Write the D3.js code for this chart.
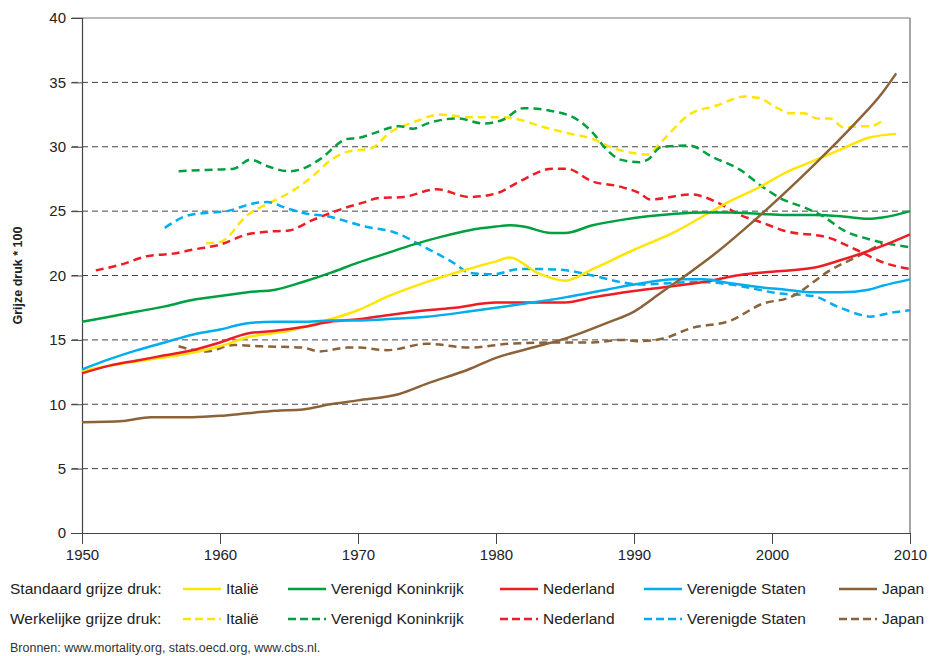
<!doctype html>
<html>
  <head>
    <meta charset="utf-8">
    <script src="https://cdnjs.cloudflare.com/ajax/libs/d3/7.8.5/d3.min.js"></script>
    <style>
      body { margin: 0; background: #fff; }
      text { font-family: "Liberation Sans Narrow", "Arial Narrow", "Liberation Sans", sans-serif; fill: #222; }
      .ylab text { font-family: "Liberation Sans", Arial, sans-serif; }
    </style>
  </head>
  <body>
    <svg width="941" height="656"></svg>
    <script>

      // Standaard grijze druk (solid lines)
      var stdItalyYears = [1950,1952,1955,1957,1960,1962,1965,1968,1970,1972,1975,1978,1980,1981,1983,1985,1987,1990,1993,1995,1997,1999,2001,2003,2005,2007,2009];
      var stdItalyVals  = [12.6,13.0,13.5,13.8,14.5,15.2,15.7,16.6,17.3,18.3,19.5,20.5,21.1,21.4,20.2,19.6,20.5,22.0,23.4,24.6,25.8,26.8,28.0,28.9,29.8,30.7,31.0];

      var stdUkYears = [1950,1952,1954,1956,1958,1960,1962,1964,1966,1968,1970,1972,1974,1976,1978,1980,1981,1982,1984,1985,1987,1989,1991,1993,1995,1997,1999,2001,2003,2005,2007,2008,2010];
      var stdUkVals  = [16.4,16.8,17.2,17.6,18.1,18.4,18.7,18.9,19.5,20.2,21.0,21.7,22.4,23.0,23.5,23.8,23.9,23.8,23.3,23.3,23.9,24.3,24.6,24.8,24.9,24.9,24.8,24.7,24.7,24.6,24.4,24.5,25.0];

      var stdNlYears = [1950,1952,1954,1956,1958,1960,1962,1964,1966,1968,1970,1972,1975,1977,1980,1982,1985,1987,1990,1993,1995,1998,2000,2003,2005,2007,2008,2010];
      var stdNlVals  = [12.4,13.0,13.4,13.8,14.2,14.8,15.5,15.7,16.0,16.4,16.6,16.9,17.3,17.5,17.9,17.9,17.9,18.3,18.8,19.2,19.5,20.1,20.3,20.6,21.2,21.9,22.3,23.2];

      var stdUsYears = [1950,1952,1954,1956,1958,1960,1962,1964,1966,1968,1970,1972,1975,1978,1980,1982,1985,1988,1990,1993,1995,1997,1999,2001,2003,2005,2007,2008,2010];
      var stdUsVals  = [12.7,13.5,14.2,14.8,15.4,15.8,16.3,16.4,16.4,16.5,16.5,16.6,16.8,17.2,17.5,17.8,18.3,18.9,19.3,19.7,19.7,19.4,19.1,18.9,18.7,18.7,18.9,19.2,19.7];

      var stdJpYears = [1950,1953,1955,1958,1960,1962,1964,1966,1968,1970,1973,1975,1978,1980,1983,1985,1988,1990,1992,1994,1996,1998,2000,2002,2004,2006,2008,2009];
      var stdJpVals  = [8.6,8.7,9.0,9.0,9.1,9.3,9.5,9.6,10.0,10.3,10.8,11.6,12.7,13.6,14.5,15.1,16.3,17.2,18.7,20.2,21.8,23.6,25.5,27.5,29.6,31.8,34.2,35.7];

      // Werkelijke grijze druk (dashed lines)
      var actItalyYears = [1959,1960,1962,1963.5,1965,1966.7,1968.2,1969.2,1971,1972.3,1974,1976,1978,1980.5,1981.7,1983.2,1985,1987,1988.5,1990,1991,1992,1994,1996,1998,1999,2000.4,2001.3,2002.3,2003.3,2004.2,2005.2,2006.6,2007.1,2008.1];
      var actItalyVals  = [22.5,22.6,24.7,25.6,26.4,27.7,29.1,29.6,29.9,31.1,31.9,32.5,32.3,32.3,32.1,31.6,31.1,30.6,29.9,29.5,29.4,30.4,32.5,33.2,33.9,33.8,33.0,32.6,32.6,32.2,32.2,31.5,31.6,31.6,32.1];

      var actUkYears = [1957,1959,1961,1962.2,1963.4,1965,1966,1967.2,1969.2,1970.1,1971,1973,1974,1975,1977.2,1979.1,1980.5,1982,1983.9,1985.9,1987,1988,1989,1990.4,1991,1992,1994,1995.7,1997.7,1999.3,2000.8,2002.3,2003.7,2005.2,2007.1,2010];
      var actUkVals  = [28.1,28.2,28.3,29.0,28.5,28.1,28.3,29.0,30.6,30.7,31.0,31.6,31.4,31.8,32.2,31.8,32.1,33.0,32.8,32.1,31.1,29.8,29.0,28.8,29.0,30.0,30.1,29.2,28.2,26.9,25.9,25.3,24.6,23.5,22.8,22.2];

      var actNlYears = [1951,1953,1954.7,1956.6,1958,1960,1962,1963.4,1965,1966.7,1969.2,1970.5,1971.4,1973.3,1975.7,1978.1,1980.1,1981.7,1984.1,1985.1,1987,1989,1990.4,1991.2,1994.1,1996,1997.7,1999.3,2000.8,2004.2,2006.1,2008.1,2010];
      var actNlVals  = [20.4,20.9,21.5,21.7,22.0,22.4,23.2,23.4,23.5,24.3,25.3,25.7,26.0,26.1,26.7,26.1,26.4,27.3,28.3,28.3,27.3,26.9,26.4,25.9,26.3,25.7,24.7,24.1,23.5,22.9,22.0,21.0,20.5];

      var actUsYears = [1956,1957.8,1959.5,1960.5,1962.4,1963.4,1964.9,1966.3,1967.8,1969.2,1970.5,1972.5,1975,1976.9,1978.1,1979.8,1981.7,1983.4,1985.1,1987,1989,1990.4,1994.6,1997,2000.6,2003,2004.7,2006.6,2007.1,2008.6,2010];
      var actUsVals  = [23.7,24.7,24.9,25.0,25.6,25.7,25.2,24.8,24.6,24.2,23.8,23.4,22.1,21.0,20.2,20.1,20.5,20.5,20.4,20.0,19.5,19.3,19.5,19.3,18.6,18.4,17.6,16.9,16.8,17.1,17.3];

      var actJpYears = [1957,1959,1961,1963,1966,1967.2,1969.2,1970.1,1972.1,1975,1978.1,1981,1984.6,1987,1989,1990.4,1992.1,1994.1,1997,1999.3,2001.3,2004.2,2006.6,2008];
      var actJpVals  = [14.5,14.1,14.6,14.5,14.4,14.1,14.4,14.4,14.2,14.7,14.4,14.7,14.8,14.8,15.0,14.9,15.1,15.9,16.5,17.8,18.3,20.4,21.7,22.5];

      var countries = ["Italië", "Verenigd Koninkrijk", "Nederland", "Verenigde Staten", "Japan"];
      var colors = ["#ffe600", "#00a040", "#ee1c25", "#00adef", "#8c6239"];
      var yearTicks = [1950, 1960, 1970, 1980, 1990, 2000, 2010];
      var valueTicks = [0, 5, 10, 15, 20, 25, 30, 35, 40];

      var stdSeries = [
        [stdItalyYears, stdItalyVals], [stdUkYears, stdUkVals], [stdNlYears, stdNlVals],
        [stdUsYears, stdUsVals], [stdJpYears, stdJpVals]
      ];
      var actSeries = [
        [actItalyYears, actItalyVals], [actUkYears, actUkVals], [actNlYears, actNlVals],
        [actUsYears, actUsVals], [actJpYears, actJpVals]
      ];

      var svg = d3.select("svg");
      var x = d3.scaleLinear().domain([1950, 2010]).range([82, 910]);
      var y = d3.scaleLinear().domain([0, 40]).range([533, 18]);

      // grid lines
      svg.append("g")
        .selectAll("line").data(valueTicks.filter(v => v > 0 && v < 40))
        .enter().append("line")
          .attr("x1", 72).attr("x2", x(2010))
          .attr("y1", d => y(d)).attr("y2", d => y(d))
          .style("stroke", "#444").style("stroke-width", 1)
          .style("stroke-dasharray", "6,4");

      // frame
      svg.append("line").attr("x1", 72).attr("x2", x(2010)).attr("y1", y(40)).attr("y2", y(40))
        .style("stroke", "#777").style("stroke-width", 1.2);
      svg.append("line").attr("x1", x(2010)).attr("x2", x(2010)).attr("y1", y(40)).attr("y2", y(0))
        .style("stroke", "#888").style("stroke-width", 1.5);

      // y axis
      var yAxis = svg.append("g").attr("class", "ylab")
        .attr("transform", "translate(" + x(1950) + ",0)")
        .call(d3.axisLeft(y).tickValues(valueTicks).tickSize(11).tickPadding(5));
      yAxis.select(".domain").style("stroke", "#444").style("stroke-width", 1.2);
      yAxis.selectAll(".tick line").style("stroke", "#444");
      yAxis.selectAll("text").style("font-size", "15px").style("fill", "#222");

      // x axis
      var xAxis = svg.append("g")
        .attr("transform", "translate(0," + y(0) + ")")
        .call(d3.axisBottom(x).tickValues(yearTicks).tickFormat(d3.format("d")).tickSize(11).tickPadding(5).tickSizeOuter(0));
      xAxis.select(".domain").style("stroke", "#444").style("stroke-width", 1.2);
      xAxis.selectAll(".tick line").style("stroke", "#444");
      xAxis.selectAll("text").style("font-size", "15px").style("fill", "#222");

      svg.append("text")
        .attr("transform", "translate(22," + y(20) + ") rotate(-90)")
        .attr("text-anchor", "middle")
        .style("font-family", "'Liberation Sans', Arial, sans-serif")
        .style("font-weight", "bold").style("font-size", "12.5px")
        .text("Grijze druk * 100");

      var line = d3.line()
        .x(d => x(d[0])).y(d => y(d[1]))
        .curve(d3.curveMonotoneX);

      function toPoints(s) { return s[0].map((yr, i) => [yr, s[1][i]]); }

      var plot = svg.append("g");
      plot.selectAll(".act").data(actSeries)
        .enter().append("path")
          .attr("d", d => line(toPoints(d)))
          .style("fill", "none")
          .style("stroke", (d, i) => colors[i])
          .style("stroke-width", 2.5)
          .style("stroke-dasharray", "8,5");
      plot.selectAll(".std").data(stdSeries)
        .enter().append("path")
          .attr("d", d => line(toPoints(d)))
          .style("fill", "none")
          .style("stroke", (d, i) => colors[i])
          .style("stroke-width", 2.5);

      // legend
      var legendX = [183, 288, 500, 644, 839];
      var rows = [
        {label: "Standaard grijze druk:", y: 589, dash: null},
        {label: "Werkelijke grijze druk:", y: 619, dash: "8,4"}
      ];
      rows.forEach(function(r) {
        var g = svg.append("g");
        g.append("text").attr("x", 10).attr("y", r.y + 5)
          .style("font-size", "15.5px").text(r.label);
        countries.forEach(function(c, i) {
          g.append("line")
            .attr("x1", legendX[i]).attr("x2", legendX[i] + 38)
            .attr("y1", r.y).attr("y2", r.y)
            .style("stroke", colors[i]).style("stroke-width", 2.5)
            .style("stroke-dasharray", r.dash);
          g.append("text").attr("x", legendX[i] + 43).attr("y", r.y + 5)
            .style("font-size", "15.5px").text(c);
        });
      });

      svg.append("text").attr("x", 10).attr("y", 652)
        .style("font-size", "12.5px").style("fill", "#333")
        .text("Bronnen: www.mortality.org, stats.oecd.org, www.cbs.nl.");
    </script>
  </body>
</html>
